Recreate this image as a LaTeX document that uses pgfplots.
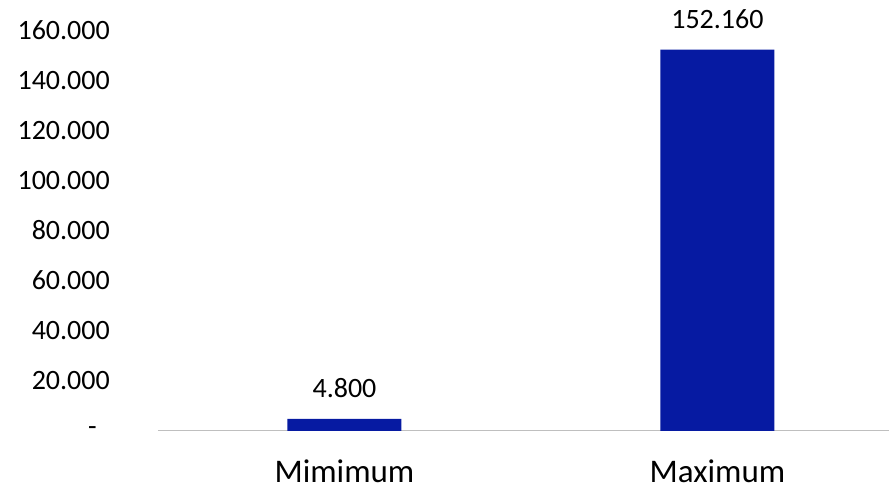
\documentclass[border=0pt]{standalone}
\usepackage{pgfplots}
\pgfplotsset{compat=1.18}
\usepackage{fontspec}
\setmainfont{Carlito}
\definecolor{barblue}{RGB}{6,26,162}
\definecolor{axgray}{RGB}{191,191,191}
\begin{document}
\begin{tikzpicture}
\begin{axis}[
  name=ax,
  scale only axis,
  width=731pt, height=401pt,
  xmin=-0.5, xmax=1.46,
  ymin=0, ymax=160000,
  enlarge y limits=false,
  scaled y ticks=false,
  axis line style={draw=none},
  major tick length=0pt,
  xtick={0,1},
  xticklabels={Mimimum, Maximum},
  xticklabel style={font=\fontsize{33}{36}\selectfont, inner sep=0pt, anchor=north, yshift=-29pt},
  ytick={0,20000,40000,60000,80000,100000,120000,140000,160000},
  yticklabels={{-\kern13pt\relax},20.000,40.000,60.000,80.000,100.000,120.000,140.000,160.000},
  yticklabel style={font=\fontsize{28}{32}\selectfont, inner sep=0pt, anchor=east, xshift=-48pt},
  /pgf/number format/assume math mode=true,
  clip=false,
]
\draw[axgray, line width=1pt] (rel axis cs:0,0) -- (rel axis cs:1,0);
\addplot[ybar, bar width=114pt, fill=barblue, draw=none,
  point meta=explicit symbolic,
  nodes near coords,
  every node near coord/.append style={font=\fontsize{28}{32}\selectfont, text=black, inner sep=0pt, anchor=south, yshift=21pt}]
  coordinates {(0,4800) [4.800] (1,152160) [152.160]};
\end{axis}
\pgfresetboundingbox
\path (ax.south west) ++(-158pt,-56pt) rectangle ++(889pt,487pt);
\end{tikzpicture}
\end{document}
